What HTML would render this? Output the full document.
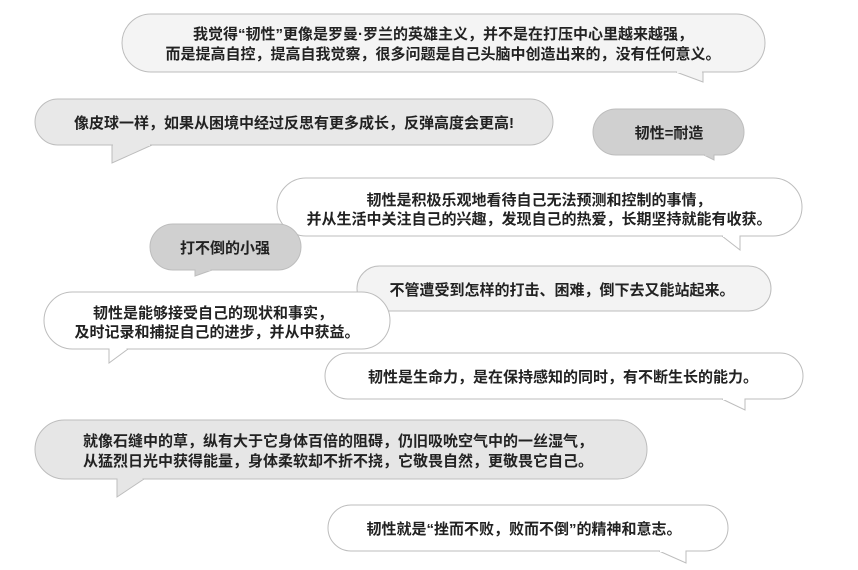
<!DOCTYPE html>
<html><head><meta charset="utf-8"><style>
html,body{margin:0;padding:0;background:#fff;}
svg{display:block;}
text{font-family:"Liberation Sans","Noto Sans CJK SC",sans-serif;font-size:15px;font-weight:bold;fill:#222;text-anchor:middle;}
</style></head><body>
<svg width="858" height="570" viewBox="0 0 858 570" xmlns="http://www.w3.org/2000/svg">
<g stroke="#bdbdbd" stroke-width="1">
<rect x="122" y="14" width="643" height="58" rx="29" fill="#f4f4f4"/>
<polygon points="676,72 703,72 703,82" fill="#f4f4f4"/>
<rect x="35" y="99" width="518" height="46" rx="23" fill="#e8e8e8"/>
<polygon points="112,145 152,145 112,163" fill="#e8e8e8"/>
<rect x="593" y="109" width="151" height="46" rx="23" fill="#d0d0d0"/>
<polygon points="704,155 714,155 714,160" fill="#d0d0d0"/>
<rect x="277" y="178" width="525" height="58" rx="29" fill="#ffffff"/>
<polygon points="722,236 740,236 740,250" fill="#ffffff"/>
<rect x="357" y="266" width="414" height="45" rx="22.5" fill="#f3f3f3"/>
<rect x="150" y="224" width="151" height="46" rx="23" fill="#d0d0d0"/>
<polygon points="195,270 212,270 195,276" fill="#d0d0d0"/>
<rect x="44" y="292" width="346" height="57" rx="28.5" fill="#ffffff"/>
<polygon points="109,349 128,349 109,363" fill="#ffffff"/>
<rect x="325" y="353" width="478" height="46" rx="23" fill="#ffffff"/>
<polygon points="722,399 745,399 745,410" fill="#ffffff"/>
<rect x="35" y="420" width="612" height="59" rx="29.5" fill="#e6e6e6"/>
<polygon points="117,479 144,479 117,497" fill="#e6e6e6"/>
<rect x="328" y="505" width="400" height="46" rx="23" fill="#ffffff"/>
<polygon points="659,551 686,551 686,563" fill="#ffffff"/>
</g>
<g stroke="none">
<rect x="677" y="71" width="25" height="2" fill="#f4f4f4"/>
<rect x="113" y="144" width="37" height="2" fill="#e8e8e8"/>
<rect x="705" y="154" width="8.5" height="2" fill="#d0d0d0"/>
<rect x="723" y="235" width="16.5" height="2" fill="#ffffff"/>
<rect x="195.5" y="269" width="15" height="2" fill="#d0d0d0"/>
<rect x="109.5" y="348" width="17" height="2" fill="#ffffff"/>
<rect x="723" y="398" width="21.5" height="2" fill="#ffffff"/>
<rect x="117.5" y="478" width="25" height="2" fill="#e6e6e6"/>
<rect x="660" y="550" width="25.5" height="2" fill="#ffffff"/>
</g>
<text x="443" y="39">我觉得“韧性”更像是罗曼·罗兰的英雄主义，并不是在打压中心里越来越强，</text>
<text x="443" y="59">而是提高自控，提高自我觉察，很多问题是自己头脑中创造出来的，没有任何意义。</text>
<text x="294" y="128">像皮球一样，如果从困境中经过反思有更多成长，反弹高度会更高!</text>
<text x="669" y="138">韧性=耐造</text>
<text x="539" y="205">韧性是积极乐观地看待自己无法预测和控制的事情，</text>
<text x="539" y="224">并从生活中关注自己的兴趣，发现自己的热爱，长期坚持就能有收获。</text>
<text x="225" y="253">打不倒的小强</text>
<text x="562" y="295">不管遭受到怎样的打击、困难，倒下去又能站起来。</text>
<text x="213" y="318">韧性是能够接受自己的现状和事实，</text>
<text x="217" y="337">及时记录和捕捉自己的进步，并从中获益。</text>
<text x="563" y="382">韧性是生命力，是在保持感知的同时，有不断生长的能力。</text>
<text x="338" y="446">就像石缝中的草，纵有大于它身体百倍的阻碍，仍旧吸吮空气中的一丝湿气，</text>
<text x="338" y="466">从猛烈日光中获得能量，身体柔软却不折不挠，它敬畏自然，更敬畏它自己。</text>
<text x="524" y="534">韧性就是“挫而不败，败而不倒”的精神和意志。</text>
</svg>
</body></html>
